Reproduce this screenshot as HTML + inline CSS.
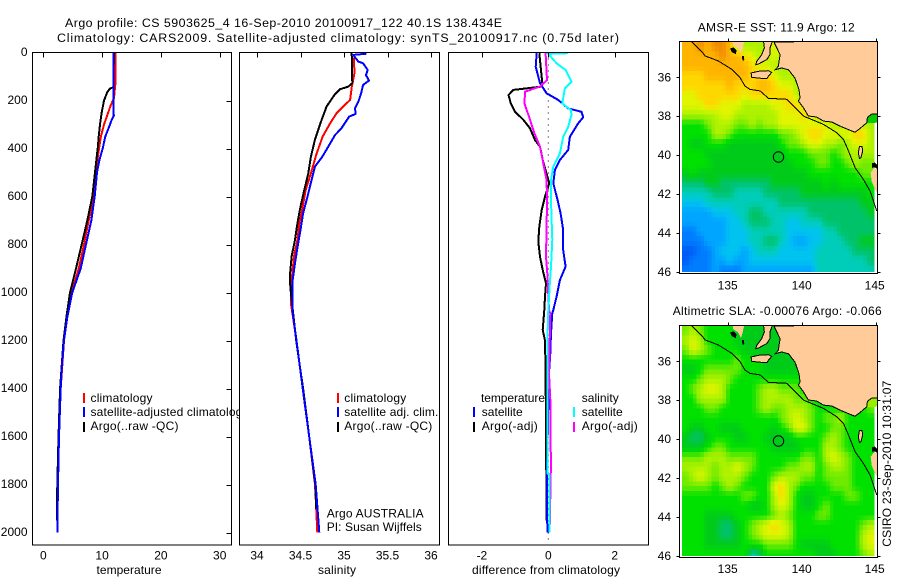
<!DOCTYPE html>
<html lang="en">
<head>
<meta charset="utf-8">
<title>Argo profile 5903625_4</title>
<style>
html,body{margin:0;padding:0;background:#fff;}
svg{display:block;}
text{font-family:"Liberation Sans",sans-serif;font-size:12px;fill:#000;}
.lbl{font-size:12.4px;}
</style>
</head>
<body>
<svg id="chart" xmlns="http://www.w3.org/2000/svg" width="900" height="580" viewBox="0 0 900 580">
  <defs>
    <clipPath id="clip-sst"><rect x="682" y="42" width="195" height="230"/></clipPath>
    <clipPath id="clip-sla"><rect x="682" y="326" width="195" height="230"/></clipPath>
  </defs>
  <rect x="0" y="0" width="900" height="580" fill="#fff"/>
  <text x="65" y="27" textLength="437" class="lbl">Argo profile: CS 5903625_4 16-Sep-2010 20100917_122 40.1S 138.434E</text>
  <text x="57" y="42" textLength="562" class="lbl">Climatology: CARS2009. Satellite-adjusted climatology: synTS_20100917.nc (0.75d later)</text>

  <g id="panel-temp"></g>
  <g>
    <rect x="83" y="393" width="2" height="10" fill="#f00"/>
    <rect x="83" y="407" width="2" height="10" fill="#00f"/>
    <rect x="83" y="422" width="2" height="10" fill="#000"/>
    <text x="90.5" y="402" textLength="62">climatology</text>
    <text x="90.5" y="416" textLength="158">satellite-adjusted climatology</text>
    <text x="90.5" y="430" textLength="88">Argo(..raw -QC)</text>
  </g>

  <rect x="239" y="46" width="205" height="500" fill="#fff"/>
  <g id="panel-sal"></g>
  <g>
    <rect x="337" y="393" width="2" height="10" fill="#f00"/>
    <rect x="337" y="407" width="2" height="10" fill="#00f"/>
    <rect x="337" y="422" width="2" height="10" fill="#000"/>
    <text x="344.3" y="402" textLength="62">climatology</text>
    <text x="344.3" y="416" textLength="94">satellite adj. clim.</text>
    <text x="344.3" y="430" textLength="88">Argo(..raw -QC)</text>
    <text x="326.7" y="517.5" textLength="97">Argo AUSTRALIA</text>
    <text x="326.7" y="531" textLength="95">PI: Susan Wijffels</text>
  </g>

  <g id="panel-diff"></g>
  <g>
    <rect x="473" y="407" width="2" height="10" fill="#00f"/>
    <rect x="473" y="422" width="2" height="10" fill="#000"/>
    <rect x="573" y="407" width="2" height="10" fill="#0ff"/>
    <rect x="573" y="422" width="2" height="10" fill="#f0f"/>
    <text x="481" y="402" textLength="64">temperature</text>
    <text x="481.7" y="416" textLength="41">satellite</text>
    <text x="481.7" y="430" textLength="56">Argo(-adj)</text>
    <text x="581.7" y="402" textLength="37">salinity</text>
    <text x="581.7" y="416" textLength="41">satellite</text>
    <text x="581.7" y="430" textLength="56">Argo(-adj)</text>
  </g>

  <text x="129" y="574" text-anchor="middle" textLength="65">temperature</text>
  <text x="337" y="574" text-anchor="middle" textLength="38">salinity</text>
  <text x="546" y="574" text-anchor="middle" textLength="148">difference from climatology</text>

  <g id="map-sst"></g>
  <g id="map-sla"></g>
  <text x="697.7" y="31.5" textLength="157">AMSR-E SST: 11.9 Argo: 12</text>
  <text x="672.7" y="315" textLength="209">Altimetric SLA: -0.00076 Argo: -0.066</text>
  <text transform="translate(891,546.7) rotate(-90)" x="0" y="0" textLength="166">CSIRO 23-Sep-2010 10:31:07</text>
</svg>

<script>
// ---------- profile depths and values ----------
const tempClimDepth = [0,120,190,220,260,300,350,400,450,500,600,700,800,900,1000,1100,1200,1400,1600,1800,2000];
const tempClimValue = [12.3,12.3,12.02,11.46,10.9,10.32,9.8,9.47,9.19,8.96,8.62,7.72,6.92,6.02,4.83,4.08,3.52,2.96,2.67,2.5,2.38];
const tempSatDepth = [0,260,262,280,300,350,400,450,500,600,700,800,900,1000,1100,1200,1300,1400,1600,1800,2000];
const tempSatValue = [11.9,11.95,12.02,11.63,11.34,10.55,10.1,9.52,9.13,8.74,8.16,7.26,6.36,4.93,4.1,3.52,3.18,2.96,2.67,2.5,2.38];
const tempArgoDepth = [0,145,150,165,200,250,300,350,400,450,500,600,700,800,900,1000,1100,1200,1400,1600,1800,1950];
const tempArgoValue = [12.02,11.9,11.34,10.88,10.32,9.93,9.64,9.42,9.25,9.01,8.79,8.33,7.48,6.53,5.56,4.54,3.95,3.44,2.85,2.59,2.38,2.3];

const salClimDepth = [20,87,142,198,225,253,295,350,420,503,573,642,712,781,850,920,990,1045,1200,1300,1400,1600,1800,1900,2000];
const salClimValue = [35.115,35.119,35.09,35.07,34.99,34.915,34.84,34.755,34.686,34.62,34.56,34.525,34.487,34.464,34.425,34.406,34.398,34.39,34.454,34.49,34.525,34.6,34.667,34.68,34.693];
const salSatDepth = [5,10,20,38,45,73,94,117,135,170,205,233,256,267,316,344,392,434,476,531,600,670,739,809,878,948,1017,1073,1200,1300,1400,1600,1800,2000];
const salSatValue = [35.26,35.108,35.126,35.165,35.22,35.272,35.253,35.287,35.22,35.196,35.165,35.126,35.134,35.06,34.97,34.896,34.82,34.75,34.666,34.628,34.58,34.53,34.5,34.467,34.437,34.41,34.406,34.406,34.454,34.49,34.525,34.6,34.675,34.716];
const salArgoDepth = [3,128,142,153,177,225,281,364,434,503,573,642,712,781,850,920,962,1003,1200,1300,1400,1600,1800,1900];
const salArgoValue = [35.088,35.095,35.05,34.954,34.89,34.8,34.743,34.666,34.62,34.59,34.544,34.5,34.464,34.437,34.398,34.38,34.38,34.39,34.45,34.49,34.53,34.6,34.67,34.68];

const diffTempSatDepth = [3,59,128,170,198,233,247,270,295,351,406,448,490,545,615,670,740,823,892,948,1017,1073,1087,1170,1253,1336,1753,2000];
const diffTempSatValue = [-0.35,-0.38,-0.25,-0.05,0.3,0.6,1.0,1.05,0.9,0.65,0.6,0.35,0.2,0.15,0.28,0.37,0.45,0.45,0.52,0.35,0.25,0.15,0.12,0.08,0.06,0.02,-0.04,-0.03];
const diffTempArgoDepth = [3,128,142,156,177,212,247,281,316,365,392,448,505,545,601,656,726,788,851,906,962,1017,1073,1156,1200,1336,1950];
const diffTempArgoValue = [-0.27,-0.18,-0.2,-1.05,-1.2,-1.13,-1.0,-0.75,-0.55,-0.4,-0.25,-0.17,-0.05,0.03,-0.1,-0.2,-0.27,-0.3,-0.25,-0.17,-0.07,-0.1,-0.12,-0.17,-0.1,-0.08,-0.05];
const diffSalSatDepth = [3,6,45,73,122,149,212,240,260,309,351,420,476,531,615,698,781,892,976,1073,1170,1336,1753,1760,2000];
const diffSalSatValue = [0.6,0,0.25,0.52,0.7,0.5,0.42,0.68,0.7,0.6,0.45,0.35,0.15,0.08,0.08,0.1,0.12,0.08,0.04,0,-0.02,-0.03,-0.03,0.03,0.03];
const diffSalArgoDepth = [3,115,142,163,212,267,337,392,462,531,615,726,851,920,1073,1087,1336,1448,1600,1700,2000];
const diffSalArgoValue = [-0.08,-0.04,-0.25,-0.7,-0.72,-0.58,-0.42,-0.25,-0.15,-0.05,-0.04,-0.05,-0.07,-0.03,0.02,0.06,0.02,0.06,0.06,0.08,0.04];

// ---------- axis tick values and labels ----------
const depthTicks = [0,200,400,600,800,1000,1200,1400,1600,1800,2000];
const tempTicks = [0,10,20,30];
const salTicks = [34,34.5,35,35.5,36];
const salTickLabels = ['34','34.5','35','35.5','36'];
const diffTicks = [-2,0,2];
const lonTicks = [135,140,145];
const latTicks = [36,38,40,42,44,46];

// ---------- map grids (colour level per 0.5 degree cell, north to south) ----------
const sstGrid = [
[12,12,13,12,13,13,12,9,9,9,9,9,10,9,9,9,9,9,9,9,9,9,9,9,9,9],
[12,12,12,12,12,13,12,12,11,10,9,9,10,9,9,9,9,9,9,9,9,9,9,9,9,9],
[12,12,12,12,12,12,12,12,12,11,10,10,9,9,9,9,9,9,9,9,9,9,9,9,9,9],
[11,11,11,12,12,12,12,12,12,11,11,11,10,9,9,9,9,9,9,9,9,9,9,9,9,9],
[11,11,11,11,11,11,12,11,11,11,12,12,11,10,10,9,9,9,9,9,9,9,9,9,9,9],
[10,10,11,11,11,11,11,11,10,11,11,11,11,11,11,9,9,9,9,9,9,9,9,9,9,9],
[10,10,10,11,11,10,10,10,9,9,9,9,10,10,11,11,10,9,9,9,9,9,9,9,9,9],
[9,9,9,9,9,10,10,9,9,9,9,9,9,10,10,10,11,10,9,9,9,9,9,9,9,8],
[7,7,7,8,9,9,9,8,8,9,8,9,9,10,10,10,10,10,10,10,9,9,9,10,9,9],
[7,7,7,7,9,9,8,7,7,7,7,7,7,8,8,9,10,11,11,10,10,10,10,11,11,9],
[7,6,6,7,7,7,6,6,6,6,6,6,6,7,8,8,9,10,10,9,9,8,9,10,10,9],
[7,7,7,6,6,6,6,6,6,6,6,6,6,6,7,7,7,8,8,8,7,8,9,9,9,9],
[7,7,7,7,6,6,6,6,6,6,6,6,6,6,6,7,7,7,8,8,7,7,8,9,8,8],
[6,7,6,6,6,6,6,6,6,6,6,6,6,6,6,6,6,7,7,7,7,7,7,7,8,8],
[5,5,5,6,6,5,5,5,5,5,5,5,6,6,6,6,6,6,6,7,6,7,7,7,7,7],
[4,4,4,4,5,5,5,4,4,4,4,5,5,5,5,5,6,6,6,6,6,6,6,6,6,7],
[3,3,3,4,4,4,4,4,4,4,4,4,4,5,5,5,5,5,5,5,5,5,5,5,6,6],
[2,2,2,2,3,3,3,4,4,5,5,4,4,4,4,4,4,5,5,5,5,5,5,5,5,6],
[2,2,2,2,2,2,3,3,4,5,5,5,4,4,3,3,4,4,4,5,5,5,5,5,5,5],
[1,1,2,2,2,2,3,3,3,4,4,4,4,4,3,3,3,3,3,4,4,5,5,5,5,5],
[1,1,1,2,2,2,3,3,3,4,4,5,5,4,3,2,2,3,3,4,4,4,5,5,6,6],
[0,0,1,1,2,3,3,3,2,3,4,4,4,3,3,3,3,3,4,4,4,4,4,5,5,5],
[0,1,1,1,2,2,3,2,2,3,3,3,3,3,3,3,3,3,4,4,4,4,4,4,4,5],
[1,1,1,1,2,1,1,1,2,2,2,2,2,2,2,2,2,2,4,4,4,4,4,4,4,4]
];
const slaGrid = [
[8,9,8,7,7,7,7,6,6,6,6,6,6,6,6,7,7,7,7,7,7,7,7,7,7,7],
[9,10,9,7,7,7,7,6,6,6,6,6,6,6,6,7,7,7,7,7,7,7,7,7,7,7],
[8,10,9,8,7,7,7,7,6,6,6,6,6,6,6,6,7,7,7,7,7,7,7,7,7,7],
[7,7,7,7,7,7,7,8,7,7,7,6,6,6,6,6,7,7,7,7,7,7,7,7,7,7],
[6,6,7,8,8,8,8,8,7,7,7,6,6,6,6,6,7,7,7,7,7,7,7,7,7,7],
[7,7,8,9,9,9,8,7,7,7,7,7,7,7,7,7,7,7,7,7,7,7,7,7,7,7],
[7,8,9,10,10,9,7,7,7,7,8,9,9,8,8,8,7,7,7,7,7,7,7,7,7,8],
[7,7,9,9,9,9,7,7,7,7,8,9,9,9,9,8,8,7,7,7,7,7,7,7,7,8],
[7,7,7,8,8,7,7,7,7,7,8,9,8,8,9,9,9,8,7,7,7,7,7,7,7,8],
[7,7,7,7,7,7,7,7,7,7,7,7,7,8,9,10,9,8,7,8,8,9,7,7,7,7],
[7,6,6,7,7,6,6,6,7,7,7,7,6,7,8,10,10,8,7,7,8,8,7,7,7,7],
[6,5,5,6,7,7,7,6,6,7,7,6,6,6,6,7,7,7,7,8,9,8,7,7,7,7],
[6,6,6,7,8,8,7,7,7,7,7,7,6,6,6,6,7,7,7,9,9,8,7,7,7,7],
[8,8,8,9,9,9,8,8,8,8,7,7,7,7,7,7,8,8,7,9,10,9,8,7,7,7],
[9,9,9,9,8,9,9,10,9,8,7,7,7,7,8,8,9,9,7,8,9,9,8,7,7,7],
[8,9,10,9,8,9,9,9,8,7,7,7,8,9,9,9,8,8,7,8,8,8,8,7,7,7],
[8,8,8,8,7,8,9,8,7,7,7,7,10,11,9,8,7,7,7,7,8,8,8,7,7,7],
[7,7,7,7,7,7,7,7,8,8,7,7,9,11,9,7,6,6,7,7,7,7,8,8,7,7],
[7,7,7,7,7,7,7,7,7,6,6,7,9,10,9,7,6,6,7,8,7,7,7,7,7,7],
[7,7,7,6,6,6,6,7,7,7,7,7,8,9,8,7,7,7,8,8,7,7,7,7,7,7],
[7,7,7,6,6,5,5,6,7,8,9,10,11,10,9,7,7,7,7,7,7,7,7,7,8,9],
[7,7,7,6,6,5,5,6,7,8,9,10,10,10,9,7,7,7,7,7,7,7,7,7,9,10],
[7,7,7,6,6,6,6,6,7,7,7,8,8,8,8,7,6,6,6,6,7,7,7,7,9,10],
[7,7,7,7,7,7,7,7,7,4,5,7,7,7,7,7,7,7,6,6,6,7,7,7,8,9]
];

// ---------- geography (lon, lat) ----------
const mainlandLon = [138.13,138.54,138.42,138.2,138.65,139.1,139.55,139.82,139.89,139.78,140.11,140.45,141.0,141.47,142.03,142.59,143.6,143.94,144.39,144.44,144.73,145.13,145.13];
const mainlandLat = [34.19,34.84,35.44,35.61,35.52,35.61,36.04,36.64,37.06,37.22,37.56,37.99,38.04,38.25,38.3,38.51,38.83,38.63,38.34,38.06,37.89,37.89,34.1];
const eyreLon = [135.32,136.13,135.99,135.9,135.68,135.38];
const eyreLat = [34.1,34.1,34.58,34.8,34.49,34.36];
const yorkeLon = [137.41,138.04,137.86,137.86,137.64,137.07,136.89,136.96,137.3,137.48];
const yorkeLat = [34.1,34.1,34.49,34.84,35.09,35.32,35.35,35.18,34.84,34.49];
const kangarooLon = [136.58,137.07,137.75,137.97,137.75,137.64,137.07,136.62];
const kangarooLat = [35.78,35.69,35.66,35.75,35.95,36.07,36.04,36.0];
const kingIslandLon = [143.9,144.08,144.12,144.0,143.9,143.83];
const kingIslandLat = [39.57,39.57,39.8,40.14,40.17,39.88];
const tasmaniaLon = [144.84,144.66,144.73,144.95,145.13,145.13];
const tasmaniaLat = [40.72,40.91,41.34,41.77,41.97,40.72];
const hunterIslandLon = [144.75,144.95,145.1,145.1,144.95,144.75];
const hunterIslandLat = [40.42,40.38,40.5,40.72,40.62,40.66];
const eyreIsletsLon = [135.16,135.38,135.61,135.54,135.27];
const eyreIsletsLat = [34.53,34.46,34.63,34.8,34.7];
const gulfIsletsLon = [135.95,136.08,136.13,136.0];
const gulfIsletsLat = [34.92,34.9,35.12,35.14];
const bayLon = [144.39,144.44,144.73,145.13,145.13,144.9];
const bayLat = [38.34,38.06,37.89,37.89,38.3,38.36];
const shelfLon = [132.57,133.25,133.47,134.37,135.27,135.84,136.17,136.51,137.19,137.75,138.99,139.44,140.11,141.47,142.37,142.82,143.16,143.61,144.17,144.62,145.07];
const shelfLat = [34.17,34.68,34.9,35.16,35.59,36.02,36.45,36.62,36.7,37.08,37.13,37.47,37.99,38.42,38.85,39.19,39.79,40.65,41.25,41.85,42.87];
const floatLon = [138.434];
const floatLat = [40.1];

// ---------- axis functions ----------
const NS = 'http://www.w3.org/2000/svg';
const yDepth = d => 52.5 + d * 0.24;
const xTemp = v => 43.3 + v * 5.88;
const xSal = v => 257 + (v - 34) * 87;
const xDiff = v => 548.3 + v * 33.2;
const xLon = v => 683.3 + (v - 132) * 14.8;
const ySst = v => 77.3 + (v - 36) * 19.45;
const ySla = v => 361.3 + (v - 36) * 19.45;

const PALETTE = [[0,90,245],[0,125,255],[0,165,255],[0,195,240],[0,205,185],[0,195,105],[0,203,25],[0,225,0],[110,235,0],[175,242,0],[225,245,0],[255,215,0],[255,180,0],[240,140,0]];
function levelColor(v) {
  const i = Math.max(0, Math.min(PALETTE.length - 1, Math.floor(v)));
  const j = Math.min(PALETTE.length - 1, i + 1);
  const t = Math.max(0, Math.min(1, v - i));
  const c = PALETTE[i].map((p, k) => Math.round(p + (PALETTE[j][k] - p) * t));
  return 'rgb(' + c.join(',') + ')';
}

function mk(parent, tag, attrs) {
  const el = document.createElementNS(NS, tag);
  for (const k in attrs) el.setAttribute(k, attrs[k]);
  parent.appendChild(el);
  return el;
}

function drawTick(parent, x1, y1, x2, y2) {
  const el = mk(parent, 'line', {x1: x1, y1: y1, x2: x2, y2: y2, stroke: '#000', 'stroke-width': 1, 'shape-rendering': 'crispEdges'});
  
  
  return el;
}

function drawTickLabel(parent, x, y, anchor, label) {
  const el = mk(parent, 'text', {x: x, y: y, 'text-anchor': anchor});
  
  
  el.textContent = label;
  return el;
}

function drawFrame(parent, x, y, w, h) {
  const el = mk(parent, 'rect', {x: x, y: y, width: w, height: h, fill: 'none', stroke: '#000', 'stroke-width': 1, 'shape-rendering': 'crispEdges'});
  
  
  return el;
}

function drawProfile(parent, name, depths, values, xFn, color, width) {
  const pts = depths.map((d, i) => xFn(values[i]).toFixed(1) + ',' + yDepth(d).toFixed(1)).join(' ');
  const el = mk(parent, 'polyline', {points: pts, fill: 'none', stroke: color, 'stroke-width': width, 'shape-rendering': 'crispEdges'});
  
  
  return el;
}

// ---------- temperature panel ----------
const panelTemp = document.getElementById('panel-temp');
drawProfile(panelTemp, 'temperature-climatology-line', tempClimDepth, tempClimValue, xTemp, '#f00', 2);
drawProfile(panelTemp, 'temperature-argo-line', tempArgoDepth, tempArgoValue, xTemp, '#000', 2);
drawProfile(panelTemp, 'temperature-satellite-line', tempSatDepth, tempSatValue, xTemp, '#00f', 2);
drawFrame(panelTemp, 32.5, 52.5, 199, 492.5);
depthTicks.forEach(d => {
  const y = Math.round(yDepth(d)) + 0.5;
  if (d > 0) drawTick(panelTemp, 226.5, y, 231.5, y);
  drawTickLabel(panelTemp, 27.5, yDepth(d) + 3.7, 'end', String(d));
});
tempTicks.forEach(v => {
  const x = Math.round(xTemp(v)) + 0.5;
  drawTick(panelTemp, x, 52.5, x, 57.5);
  drawTickLabel(panelTemp, xTemp(v), 559.5, 'middle', String(v));
});

// ---------- salinity panel ----------
const panelSal = document.getElementById('panel-sal');
drawProfile(panelSal, 'salinity-climatology-line', salClimDepth, salClimValue, xSal, '#f00', 2);
drawProfile(panelSal, 'salinity-argo-line', salArgoDepth, salArgoValue, xSal, '#000', 2);
drawProfile(panelSal, 'salinity-satellite-line', salSatDepth, salSatValue, xSal, '#00f', 2);
drawFrame(panelSal, 239.5, 52.5, 200, 492.5);
salTicks.forEach((v, i) => {
  const x = Math.round(xSal(v)) + 0.5;
  drawTick(panelSal, x, 52.5, x, 57.5);
  drawTickLabel(panelSal, xSal(v), 559.5, 'middle', salTickLabels[i]);
});

// ---------- difference panel ----------
const panelDiff = document.getElementById('panel-diff');
const zeroLine = mk(panelDiff, 'line', {x1: xDiff(0), y1: 52.5, x2: xDiff(0), y2: 545, stroke: '#000', 'stroke-width': 1, 'stroke-dasharray': '1 5'});


drawProfile(panelDiff, 'difference-temperature-argo-line', diffTempArgoDepth, diffTempArgoValue, xDiff, '#000', 2);
drawProfile(panelDiff, 'difference-temperature-satellite-line', diffTempSatDepth, diffTempSatValue, xDiff, '#00f', 2);
drawProfile(panelDiff, 'difference-salinity-argo-line', diffSalArgoDepth, diffSalArgoValue, xDiff, '#f0f', 2);
drawProfile(panelDiff, 'difference-salinity-satellite-line', diffSalSatDepth, diffSalSatValue, xDiff, '#0ff', 2);
drawFrame(panelDiff, 448.5, 52.5, 200, 492.5);
diffTicks.forEach(v => {
  const x = Math.round(xDiff(v)) + 0.5;
  drawTick(panelDiff, x, 52.5, x, 57.5);
  drawTickLabel(panelDiff, xDiff(v), 559.5, 'middle', String(v));
});

// ---------- maps ----------
function drawLand(parent, name, lons, lats, yFn, fill, stroked) {
  const pts = lons.map((lo, i) => xLon(lo).toFixed(1) + ',' + yFn(lats[i]).toFixed(1)).join(' ');
  const el = mk(parent, 'polygon', {points: pts, fill: fill, stroke: stroked ? '#000' : 'none', 'stroke-width': 1, 'shape-rendering': 'crispEdges'});
  
  
  return el;
}

// Grid level at a fractional row/column, blended between neighbouring read cells.
function sampleGrid(grid, r, c) {
  const r0 = Math.max(0, Math.min(grid.length - 1, Math.floor(r)));
  const r1 = Math.min(grid.length - 1, r0 + 1);
  const c0 = Math.max(0, Math.min(grid[0].length - 1, Math.floor(c)));
  const c1 = Math.min(grid[0].length - 1, c0 + 1);
  const tr = Math.max(0, Math.min(1, r - r0));
  const tc = Math.max(0, Math.min(1, c - c0));
  const top = grid[r0][c0] + (grid[r0][c1] - grid[r0][c0]) * tc;
  const bot = grid[r1][c0] + (grid[r1][c1] - grid[r1][c0]) * tc;
  return top + (bot - top) * tr;
}

function drawMap(groupId, grid, clipId, yFn, top, bottom, tickBaseline, prefix, bayFill) {
  const group = document.getElementById(groupId);
  const plot = mk(group, 'g', {'clip-path': 'url(#' + clipId + ')'});
  
  
  const gridLon0 = 131.9;
  const gridLat0 = 34.17;
  const step = 0.5;
  const sub = 2;
  for (let r = 0; r < grid.length * sub; r++) {
    for (let c = 0; c < grid[0].length * sub; c++) {
      const v = sampleGrid(grid, (r + 0.5) / sub - 0.5, (c + 0.5) / sub - 0.5);
      const x0 = xLon(gridLon0 + c * step / sub);
      const x1 = xLon(gridLon0 + (c + 1) * step / sub);
      const y0 = yFn(gridLat0 + r * step / sub);
      const y1 = yFn(gridLat0 + (r + 1) * step / sub);
      const cell = mk(plot, 'rect', {x: x0.toFixed(2), y: y0.toFixed(2), width: (x1 - x0 + 0.4).toFixed(2), height: (y1 - y0 + 0.4).toFixed(2), fill: levelColor(v), 'shape-rendering': 'crispEdges'});
      
      
    }
  }
  const shelf = shelfLon.map((lo, i) => xLon(lo).toFixed(1) + ',' + yFn(shelfLat[i]).toFixed(1)).join(' ');
  const shelfLine = mk(plot, 'polyline', {points: shelf, fill: 'none', stroke: '#000', 'stroke-width': 1, 'shape-rendering': 'crispEdges'});
  
  
  drawLand(plot, 'port-phillip-bay', bayLon, bayLat, yFn, bayFill, false);
  drawLand(plot, 'mainland', mainlandLon, mainlandLat, yFn, '#ffcc99', true);
  drawLand(plot, 'eyre-peninsula', eyreLon, eyreLat, yFn, '#ffcc99', false);
  drawLand(plot, 'yorke-peninsula', yorkeLon, yorkeLat, yFn, '#ffcc99', true);
  drawLand(plot, 'kangaroo-island', kangarooLon, kangarooLat, yFn, '#ffcc99', true);
  drawLand(plot, 'king-island', kingIslandLon, kingIslandLat, yFn, '#ffcc99', true);
  drawLand(plot, 'tasmania', tasmaniaLon, tasmaniaLat, yFn, '#ffcc99', false);
  drawLand(plot, 'hunter-islands', hunterIslandLon, hunterIslandLat, yFn, '#000', false);
  drawLand(plot, 'eyre-islets', eyreIsletsLon, eyreIsletsLat, yFn, '#000', false);
  drawLand(plot, 'gulf-islets', gulfIsletsLon, gulfIsletsLat, yFn, '#000', false);
  const marker = mk(group, 'circle', {cx: xLon(floatLon[0]).toFixed(1), cy: yFn(floatLat[0]).toFixed(1), r: 5.2, fill: 'none', stroke: '#000', 'stroke-width': 1});
  
  
  drawFrame(group, 679.5, top, 198, bottom - top);
  lonTicks.forEach(v => {
    const x = Math.round(xLon(v)) + 0.5;
    drawTick(group, x, top - 3, x, top);
    drawTickLabel(group, xLon(v) - (v === 145 ? 1 : 0), tickBaseline, 'middle', String(v));
  });
  latTicks.forEach(v => {
    const y = Math.round(yFn(v)) + 0.5;
    drawTick(group, 676.5, y, 679.5, y);
    drawTick(group, 877.5, y, 880.5, y);
    drawTickLabel(group, 671, yFn(v) + 4, 'end', String(v));
  });
}
drawMap('map-sst', sstGrid, 'clip-sst', ySst, 41.5, 273.5, 289.5, 'sst', '#00cc00');
drawMap('map-sla', slaGrid, 'clip-sla', ySla, 325.5, 557.5, 573, 'sla', '#99ee00');
</script>
</body>
</html>
